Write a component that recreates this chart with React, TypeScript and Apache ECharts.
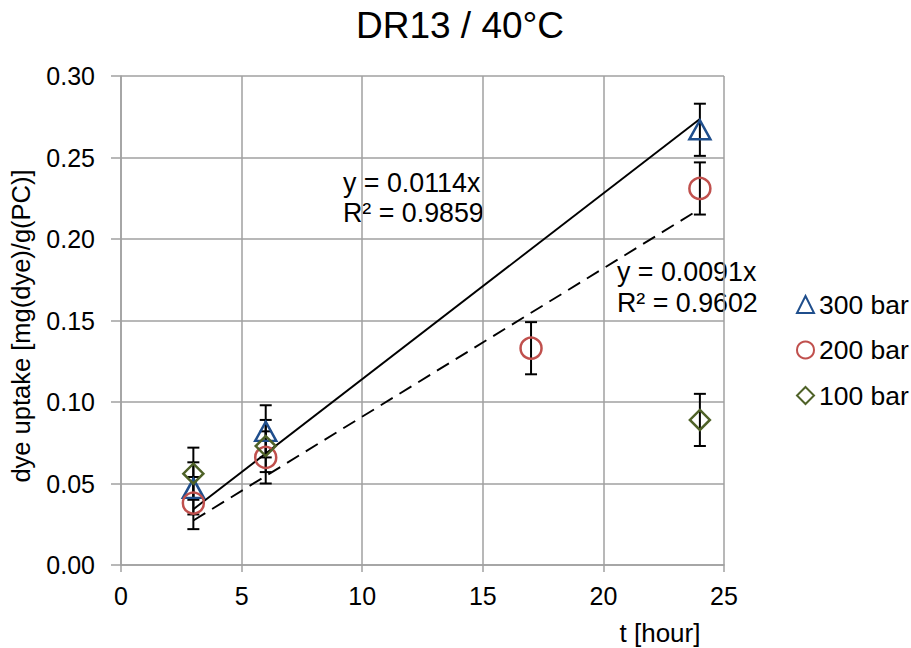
import React, { useEffect, useRef } from "react";
import * as echarts from "echarts";

const titleText = "DR13 / 40°C";
const xAxisName = "t [hour]";
const yAxisName = "dye uptake [mg(dye)/g(PC)]";
const seriesNames = ["300 bar", "200 bar", "100 bar"];

const t300 = [3, 6, 24];
const u300 = [0.047, 0.082, 0.267];
const e300 = [0.016, 0.016, 0.016];

const t200 = [3, 6, 17, 24];
const u200 = [0.038, 0.066, 0.133, 0.231];
const e200 = [0.016, 0.016, 0.016, 0.016];

const t100 = [3, 6, 24];
const u100 = [0.056, 0.073, 0.089];
const e100 = [0.016, 0.016, 0.016];

const trend300X = [3, 24];
const trend300Y = [0.0342, 0.2736];
const trend200X = [3, 24];
const trend200Y = [0.0273, 0.2184];

const eq300 = ["y = 0.0114x", "R² = 0.9859"];
const eq200 = ["y = 0.0091x", "R² = 0.9602"];

const FONT = "'Liberation Sans', Arial, sans-serif";
const GRID_COLOR = "#a0a0a0";
const colors = ["#1f4e8c", "#c0504d", "#4f6228"];
const symbols = ["triangle", "circle", "diamond"];
const symbolSizes: any[] = [[21, 19], 21, 20];

function errSeries(xs: number[], ys: number[], es: number[]) {
  return {
    type: "custom",
    silent: true,
    z: 3,
    encode: { x: 0, y: [1, 2] },
    data: xs.map((x, i) => [x, ys[i] - es[i], ys[i] + es[i]]),
    renderItem: (params: any, api: any) => {
      const lo = api.coord([api.value(0), api.value(1)]);
      const hi = api.coord([api.value(0), api.value(2)]);
      const hw = 6;
      const style = { stroke: "#000", lineWidth: 2 };
      return {
        type: "group",
        children: [
          { type: "line", shape: { x1: hi[0], y1: hi[1], x2: lo[0], y2: lo[1] }, style },
          { type: "line", shape: { x1: hi[0] - hw, y1: hi[1], x2: hi[0] + hw, y2: hi[1] }, style },
          { type: "line", shape: { x1: lo[0] - hw, y1: lo[1], x2: lo[0] + hw, y2: lo[1] }, style },
        ],
      };
    },
  };
}

function scatter(i: number, xs: number[], ys: number[]) {
  return {
    type: "scatter",
    name: seriesNames[i],
    symbol: symbols[i],
    symbolSize: symbolSizes[i],
    z: 4,
    data: xs.map((x, k) => [x, ys[k]]),
    itemStyle: { color: "rgba(0,0,0,0)", borderColor: colors[i], borderWidth: 2.5, opacity: 1 },
  };
}

function trend(xs: number[], ys: number[], dashed: boolean) {
  return {
    type: "line",
    showSymbol: false,
    silent: true,
    z: 2,
    data: xs.map((x, k) => [x, ys[k]]),
    lineStyle: { color: "#000", width: 1.9, type: dashed ? [14, 8] : "solid" },
  };
}

function txt(text: string, x: number, y: number, size = 25, align = "left", rotation = 0) {
  return {
    type: "text",
    x,
    y,
    rotation,
    style: {
      text,
      fill: "#000",
      font: `${size}px ${FONT}`,
      textAlign: align,
      textVerticalAlign: "middle",
    },
  };
}

export default function App() {
  const ref = useRef<HTMLDivElement>(null);
  useEffect(() => {
    document.body.style.margin = "0";
    if (!ref.current) return;
    const chart = echarts.init(ref.current, undefined, { renderer: "svg" });
    const option: any = {
      animation: false,
      backgroundColor: "#fff",
      textStyle: { fontFamily: FONT },
      grid: { left: 121, right: 187, top: 76, bottom: 83 },
      xAxis: {
        type: "value",
        min: 0,
        max: 25,
        interval: 5,
        axisLine: { show: true, lineStyle: { color: GRID_COLOR, width: 1.5 } },
        axisTick: { show: true, inside: false, length: 7, lineStyle: { color: GRID_COLOR, width: 1.5 } },
        splitLine: { show: true, lineStyle: { color: GRID_COLOR, width: 1.5 } },
        axisLabel: { color: "#000", fontSize: 25, fontFamily: FONT, margin: 18 },
      },
      yAxis: {
        type: "value",
        min: 0,
        max: 0.3,
        interval: 0.05,
        axisLine: { show: true, lineStyle: { color: GRID_COLOR, width: 1.5 } },
        axisTick: { show: true, inside: false, length: 10, lineStyle: { color: GRID_COLOR, width: 1.5 } },
        splitLine: { show: true, lineStyle: { color: GRID_COLOR, width: 1.5 } },
        axisLabel: {
          color: "#000",
          fontSize: 25,
          fontFamily: FONT,
          margin: 26,
          formatter: (v: number) => v.toFixed(2),
        },
      },
      legend: {
        show: true,
        data: seriesNames,
        orient: "vertical",
        left: 796,
        top: 291,
        padding: 0,
        itemWidth: 17,
        itemHeight: 17,
        itemGap: 18.5,
        textStyle: { color: "#000", fontSize: 26.5, fontFamily: FONT, lineHeight: 26, padding: [0, 0, 0, 0] },
      },
      series: [
        trend(trend300X, trend300Y, false),
        trend(trend200X, trend200Y, true),
        errSeries(t300, u300, e300),
        errSeries(t200, u200, e200),
        errSeries(t100, u100, e100),
        scatter(0, t300, u300),
        scatter(1, t200, u200),
        scatter(2, t100, u100),
      ],
      graphic: [
        txt(titleText, 460, 25, 37, "center"),
        txt(xAxisName, 660, 633, 26, "center"),
        txt(yAxisName, 21, 326, 25.5, "center", Math.PI / 2),
        txt(eq300[0], 343, 183, 26.8),
        txt(eq300[1], 343, 213, 26.8),
        txt(eq200[0], 617, 272, 26.8),
        txt(eq200[1], 617, 303, 26.8),
      ],
    };
    chart.setOption(option);
    return () => chart.dispose();
  }, []);
  return <div ref={ref} style={{ width: 911, height: 648 }} />;
}
